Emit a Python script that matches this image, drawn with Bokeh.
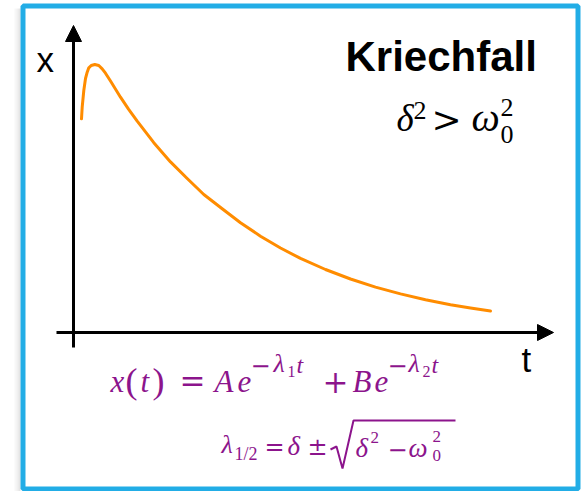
from bokeh.plotting import figure
from bokeh.models import Range1d, Label, Arrow, NormalHead
from bokeh.embed import file_html
from bokeh.resources import INLINE

# Overdamped response ("Kriechfall"): sampled points of x(t)
t_vals = [0.80, 0.87, 1.03, 1.20, 1.37, 1.53, 1.77, 2.13, 2.53, 2.87, 3.20,
          3.70, 4.70, 5.50, 6.37, 8.03, 9.70, 11.37, 13.03, 14.87, 16.70,
          18.70, 20.70, 22.70, 25.20, 27.70, 30.20, 32.70, 35.20, 37.70,
          39.70, 41.70]
x_vals = [21.37, 22.53, 24.20, 25.40, 26.03, 26.47, 26.70, 26.80, 26.70, 26.37, 25.93,
          25.15, 23.53, 22.33, 21.13, 18.98, 17.06, 15.40, 13.80, 12.37, 10.98,
          9.63, 8.45, 7.41, 6.30, 5.35, 4.54, 3.86, 3.28, 2.78,
          2.44, 2.14]

# Canvas geometry: the axes cross at pixel (73, 332); one data unit is 10 px
W, H = 581, 491
OX, OY, S = 73, 332, 10.0


def X(px):
    return (px - OX) / S


def Y(py):
    return (OY - py) / S


p = figure(width=W, height=H, output_backend="svg", toolbar_location=None,
           x_range=Range1d(X(0), X(W)), y_range=Range1d(Y(H), Y(0)),
           x_axis_type=None, y_axis_type=None, min_border=0)
p.grid.visible = False
p.outline_line_color = None
p.background_fill_color = "white"
p.border_fill_color = "white"

# soft shadow to the left of the frame
for i, a in enumerate([0.03, 0.06, 0.10]):
    p.quad(left=X(14 + 2 * i), right=X(16 + 2 * i), bottom=Y(491), top=Y(8),
           fill_color="black", fill_alpha=a, line_color=None)

# blue frame
p.quad(left=X(22.5), right=X(577.5), bottom=Y(488.5), top=Y(5.5),
       fill_color=None, line_color="#22ADE6", line_width=5)

# axes with arrow heads
p.add_layout(Arrow(x_start=X(73), y_start=Y(347), x_end=X(73), y_end=Y(25),
                   line_width=3, line_color="black",
                   end=NormalHead(size=16, fill_color="black", line_color="black", line_width=1)))
p.add_layout(Arrow(x_start=X(56), y_start=Y(332), x_end=X(553), y_end=Y(332),
                   line_width=3, line_color="black",
                   end=NormalHead(size=16, fill_color="black", line_color="black", line_width=1)))

# response curve
p.line(t_vals, x_vals, line_color="#FF8C00", line_width=3, line_join="round", line_cap="round")

SANS = "Liberation Sans"
SERIF = "Liberation Serif"
OPS = "DejaVu Serif"
PURPLE = "#8C148C"
LIFT = 0.37  # baseline correction, in em


def put(txt, px, py, size, font=SERIF, style="normal", color="black"):
    p.add_layout(Label(x=X(px), y=Y(py), y_offset=LIFT * size, text=txt, text_font=font,
                       text_font_size=f"{size}px", text_font_style=style,
                       text_color=color, text_baseline="alphabetic", text_align="left"))


# axis labels and title
put("x", 36, 72, 35, SANS)
put("t", 521, 372, 35, SANS)
put("Kriechfall", 345, 72, 42, SANS, "bold")

# δ² > ω₀²
put("δ", 396, 132, 37, style="italic")
put("2", 413, 120, 26)
put(">", 431, 132, 36, OPS)
put("ω", 471, 132, 40, style="italic")
put("2", 500, 117, 26)
put("0", 500, 144, 26)

# x(t) = A e^{-λ1 t} + B e^{-λ2 t}
put("x", 110, 392, 31, style="italic", color=PURPLE)
put("(", 125, 394, 36, color=PURPLE)
put("t", 140, 392, 31, style="italic", color=PURPLE)
put(")", 152, 394, 36, color=PURPLE)
put("=", 179, 392, 31, OPS, color=PURPLE)
put("A", 214, 392, 31, style="italic", color=PURPLE)
put("e", 237, 392, 31, style="italic", color=PURPLE)
put("\u2212", 250, 373, 24, OPS, color=PURPLE)
put("λ", 273, 373, 26, style="italic", color=PURPLE)
put("1", 287, 377, 16, color=PURPLE)
put("t", 296, 373, 24, style="italic", color=PURPLE)
put("+", 322, 392, 31, OPS, color=PURPLE)
put("B", 352, 392, 31, style="italic", color=PURPLE)
put("e", 374, 392, 31, style="italic", color=PURPLE)
put("\u2212", 387, 373, 24, OPS, color=PURPLE)
put("λ", 408, 373, 26, style="italic", color=PURPLE)
put("2", 422, 377, 16, color=PURPLE)
put("t", 431, 373, 24, style="italic", color=PURPLE)

# λ_{1/2} = δ ± sqrt(δ² − ω₀²)
put("λ", 221, 454, 26, style="italic", color=PURPLE)
put("1/2", 234, 460, 18, color=PURPLE)
put("=", 264, 455, 24, OPS, color=PURPLE)
put("δ", 287, 455, 27, style="italic", color=PURPLE)
put("±", 307, 455, 24, OPS, color=PURPLE)
p.line([X(330), X(336), X(342), X(353), X(455)],
       [Y(449), Y(446), Y(468), Y(420), Y(420)],
       line_color=PURPLE, line_width=2)
put("δ", 355, 457, 27, style="italic", color=PURPLE)
put("2", 370, 443, 17, color=PURPLE)
put("\u2212", 387, 457, 24, OPS, color=PURPLE)
put("ω", 408, 457, 27, style="italic", color=PURPLE)
put("2", 432, 442, 17, color=PURPLE)
put("0", 432, 461, 17, color=PURPLE)

open("out.html", "w").write(file_html(p, INLINE))
